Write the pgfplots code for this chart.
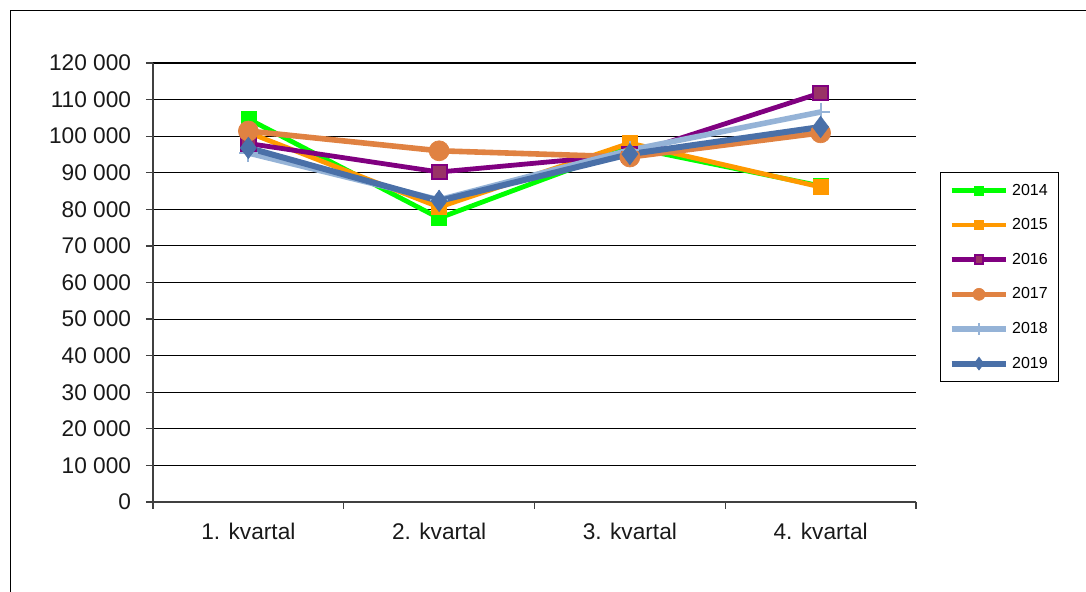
\documentclass[border=0pt]{standalone}
\usepackage{pgfplots}
\pgfplotsset{compat=1.18}
\usepackage{fontspec}
\setmainfont{Liberation Sans}
\definecolor{c2014}{RGB}{0,255,0}
\definecolor{c2015}{RGB}{255,153,0}
\definecolor{c2016}{RGB}{128,0,128}
\definecolor{c2016f}{RGB}{153,51,102}
\definecolor{c2017}{RGB}{224,130,66}
\definecolor{c2018}{RGB}{149,179,215}
\definecolor{c2019}{RGB}{74,112,168}
\definecolor{axgray}{RGB}{64,64,64}
\begin{document}
\begin{tikzpicture}
\useasboundingbox (0,0) rectangle (814.5pt,444pt);
\draw[black, line width=0.75pt] (7.5pt,0pt) -- (7.5pt,435.75pt) -- (814.5pt,435.75pt);
\begin{axis}[
  at={(114.75pt,67.5pt)}, anchor=south west,
  scale only axis, width=572.25pt, height=329.25pt,
  xmin=0.5, xmax=4.5, ymin=0, ymax=120000,
  axis x line*=bottom, axis y line*=left,
  axis line style={axgray, line width=0.9pt},
  ytick={0,10000,...,120000},
  yticklabels={0,10 000,20 000,30 000,40 000,50 000,60 000,70 000,80 000,90 000,100 000,110 000,120 000},
  scaled ticks=false,
  ymajorgrids, major grid style={black, line width=0.8pt},
  ytick style={axgray, line width=0.9pt},
  tick align=outside, major tick length=5.25pt,
  yticklabel style={font=\fontsize{17}{20}\selectfont, text=black!90, inner sep=0pt, xshift=-11pt},
  xtick={1,2,3,4},
  xticklabels={1. kvartal,2. kvartal,3. kvartal,4. kvartal},
  xticklabel style={font=\fontsize{17}{20}\selectfont, text=black!90, inner sep=0pt, yshift=-10pt},
  xtick style={draw=none},
  extra x ticks={0.5,1.5,2.5,3.5,4.5},
  extra x tick labels={},
  extra x tick style={xtick style={draw=axgray, line width=0.9pt}, grid=none},
  clip=false,
  legend style={at={(axis description cs:1.0315,0.7517)}, anchor=north west,
    draw=black, line width=0.75pt, font=\fontsize{12}{14}\selectfont,
    row sep=12.1pt, inner xsep=6pt, inner ysep=6.5pt, cells={anchor=west}},
  legend image code/.code={\draw[mark repeat=2,mark phase=2,#1,/tikz/every mark/.append style={scale=0.6}] plot coordinates {(0pt,0pt)(20.6pt,0pt)(41.2pt,0pt)};},
]
\addplot[c2014, line width=3.6pt, mark=square*, mark size=5.6pt, mark options={solid, line width=0.5pt}] coordinates {(1,104700) (2,77600) (3,97000) (4,86400)};
\addlegendentry{2014}
\addplot[c2015, line width=3.6pt, mark=square*, mark size=5.6pt, mark options={solid, line width=0.5pt}] coordinates {(1,101000) (2,80600) (3,98100) (4,86100)};
\addlegendentry{2015}
\addplot[c2016, line width=3.6pt, mark=square*, mark size=5.6pt, mark options={solid, line width=1.5pt, draw=c2016, fill=c2016f}] coordinates {(1,98000) (2,90200) (3,95000) (4,111800)};
\addlegendentry{2016}
\addplot[c2017, line width=4.2pt, mark=*, mark size=7.5pt, mark options={solid, line width=0.5pt}] coordinates {(1,101400) (2,96000) (3,94300) (4,100900)};
\addlegendentry{2017}
\addplot[c2018, line width=4.2pt, mark=+, mark size=7pt, mark options={solid, line width=1.5pt}] coordinates {(1,95400) (2,82600) (3,96200) (4,106600)};
\addlegendentry{2018}
\addplot[c2019, line width=4.5pt, mark=diamond*, mark size=8pt, mark options={solid, line width=0.5pt}] coordinates {(1,96800) (2,82300) (3,95100) (4,102500)};
\addlegendentry{2019}
\end{axis}
\end{tikzpicture}
\end{document}
